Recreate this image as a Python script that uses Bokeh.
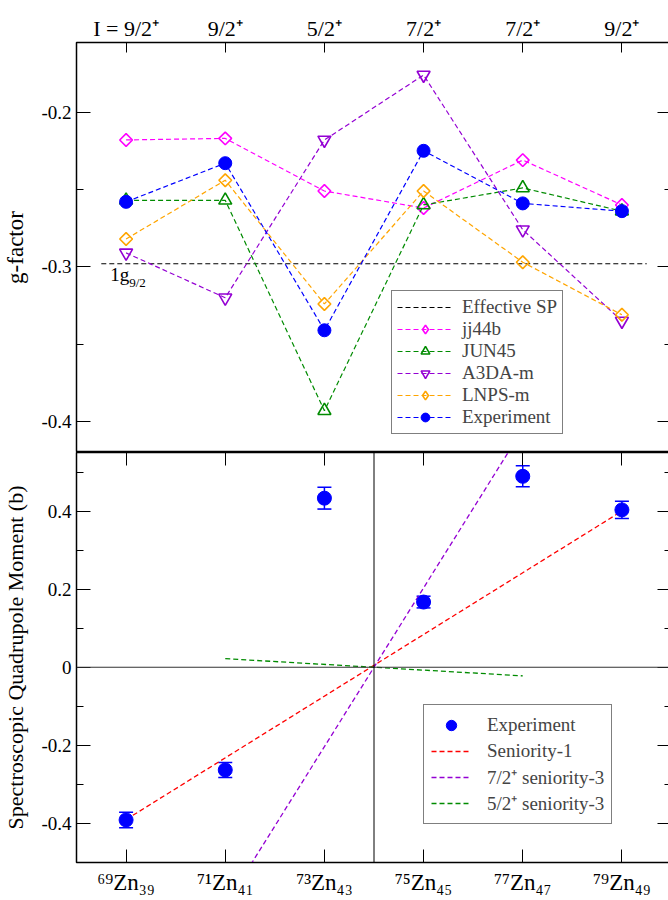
import numpy as np
from bokeh.plotting import figure
from bokeh.models import (Range1d, LinearAxis, FixedTicker, SingleIntervalTicker, Legend,
                          LegendItem, Span, Label, Whisker, ColumnDataSource, TeeHead,
                          PrintfTickFormatter)
from bokeh.layouts import column
from bokeh.embed import file_html
from bokeh.resources import INLINE

# ---------------- data ----------------
nuclei = ["⁶⁹Zn₃₉", "⁷¹Zn₄₁", "⁷³Zn₄₃", "⁷⁵Zn₄₅", "⁷⁷Zn₄₇", "⁷⁹Zn₄₉"]
spins = ["I = 9/2⁺", "9/2⁺", "5/2⁺", "7/2⁺", "7/2⁺", "9/2⁺"]

g_jj44b = [-0.218, -0.217, -0.251, -0.262, -0.231, -0.260]
g_jun45 = [-0.257, -0.257, -0.393, -0.260, -0.249, -0.264]
g_a3da = [-0.291, -0.320, -0.218, -0.176, -0.276, -0.335]
g_lnps = [-0.282, -0.244, -0.324, -0.251, -0.297, -0.331]
g_exp = [-0.258, -0.233, -0.341, -0.225, -0.259, -0.264]
g_sp = -0.298
sp_x = [-0.25, 5.25]

q_exp = [-0.391, -0.263, 0.433, 0.167, 0.489, 0.403]
q_err = [0.020, 0.019, 0.028, 0.015, 0.027, 0.022]
sen1_x = [0, 5]
sen1_q = [-0.39, 0.40]
sen3_72_x = [1, 4]
sen3_72_q = [-0.61, 0.61]
sen3_52_x = [1, 4]
sen3_52_q = [0.022, -0.022]

xs = list(range(len(nuclei)))

FONT = "Liberation Serif"
MAGENTA = "#ff00ff"
GREEN = "#008b00"
VIOLET = "#9400d3"
ORANGE = "#ffa500"
BLUE = "#0000ff"
RED = "#ff0000"
DASH = "5 3"


def style_axis(ax, tick_len=14, minor_len=7, labels=True, font_size="19px"):
    ax.major_tick_in = tick_len
    ax.major_tick_out = 0
    ax.minor_tick_in = minor_len
    ax.minor_tick_out = 0
    ax.axis_line_color = "black"
    ax.major_tick_line_color = "black"
    ax.minor_tick_line_color = "black"
    ax.major_label_text_font = FONT
    ax.major_label_text_color = "black"
    ax.axis_label_text_font = FONT
    ax.axis_label_text_font_style = "normal"
    ax.axis_label_text_color = "black"
    if labels:
        ax.major_label_text_font_size = font_size
    else:
        ax.major_label_text_font_size = "1px"
        ax.major_label_text_color = None
        ax.major_label_standoff = 0


# ---------------- top panel: g-factors ----------------
p1 = figure(width=671, height=452, x_range=Range1d(-0.5, 5.5), y_range=Range1d(-0.42, -0.155),
            x_axis_location="above", output_backend="svg", toolbar_location=None,
            min_border_left=73, min_border_right=0, min_border_top=42, min_border_bottom=0)
p1.grid.visible = False
p1.outline_line_color = "black"
p1.outline_line_width = 1.5

xa = p1.xaxis[0]
xa.ticker = FixedTicker(ticks=xs)
xa.major_label_overrides = {x: s for x, s in zip(xs, spins)}
style_axis(xa, tick_len=10, minor_len=0, font_size="22px")
xa.major_label_standoff = 2

ya = p1.yaxis[0]
ya.ticker = SingleIntervalTicker(interval=0.1, num_minor_ticks=2)
ya.formatter = PrintfTickFormatter(format="%.1f")
style_axis(ya)
ya.major_label_standoff = 5
ya.axis_label = "g-factor"
ya.axis_label_text_font_size = "23px"
ya.axis_label_standoff = 10

ra1 = LinearAxis(ticker=SingleIntervalTicker(interval=0.1, num_minor_ticks=2))
style_axis(ra1, labels=False)
p1.add_layout(ra1, "right")

sp_r = p1.line(sp_x, [g_sp, g_sp], line_color="black", line_dash=DASH, line_width=1.2)
p1.add_layout(Label(x=sp_x[0] + 0.09, y=g_sp - 0.0135, text="1g", text_font=FONT,
                    text_font_size="19px", text_color="black"))
p1.add_layout(Label(x=sp_x[0] + 0.09, y=g_sp - 0.0135, x_offset=19, y_offset=-5, text="9/2",
                    text_font=FONT, text_font_size="13px", text_color="black"))

series = [
    ("jj44b", g_jj44b, MAGENTA, "square", np.pi / 4, 9, "diamond"),
    ("JUN45", g_jun45, GREEN, "triangle", 0, 13, "triangle"),
    ("A3DA-m", g_a3da, VIOLET, "inverted_triangle", 0, 13, "inverted_triangle"),
    ("LNPS-m", g_lnps, ORANGE, "square", np.pi / 4, 9, "diamond"),
]
items = [LegendItem(label="Effective SP", renderers=[sp_r])]
for name, vals, col, marker, ang, size, leg_marker in series:
    lr = p1.line(xs, vals, line_color=col, line_dash=DASH, line_width=1.2)
    sr = p1.scatter(xs, vals, marker=marker, angle=ang, size=size, line_color=col,
                    line_width=1.6, fill_color=None)
    if leg_marker == marker:
        items.append(LegendItem(label=name, renderers=[lr, sr]))
    else:
        # legend-only proxy (the legend ignores marker rotation); its point is NaN, so never drawn
        proxy = p1.scatter(x=[np.nan], y=[np.nan], marker=leg_marker, size=15, line_color=col,
                           line_width=1.6, fill_color=None)
        items.append(LegendItem(label=name, renderers=[lr, proxy]))
lr = p1.line(xs, g_exp, line_color=BLUE, line_dash=DASH, line_width=1.2)
sr = p1.scatter(xs, g_exp, marker="circle", size=13, line_color=BLUE, fill_color=BLUE)
items.append(LegendItem(label="Experiment", renderers=[lr, sr]))

leg1 = Legend(items=items, location=(315, 18), label_text_font=FONT, label_text_font_size="19px",
              border_line_color="black", border_line_width=1, background_fill_alpha=1,
              padding=5, spacing=0, glyph_width=56, glyph_height=22, label_height=22,
              label_standoff=9, margin=0)
p1.add_layout(leg1)

# ---------------- bottom panel: quadrupole moments ----------------
p2 = figure(width=671, height=448, x_range=Range1d(-0.5, 5.5), y_range=Range1d(-0.5, 0.55),
            output_backend="svg", toolbar_location=None,
            min_border_left=73, min_border_right=0, min_border_top=0, min_border_bottom=38)
p2.grid.visible = False
p2.outline_line_color = "black"
p2.outline_line_width = 1.5

xb = p2.xaxis[0]
xb.ticker = FixedTicker(ticks=xs)
xb.major_label_overrides = {x: s for x, s in zip(xs, nuclei)}
style_axis(xb, tick_len=13, minor_len=0, font_size="23px")
xb.major_label_standoff = 7

yb = p2.yaxis[0]
yb.ticker = SingleIntervalTicker(interval=0.2, num_minor_ticks=2)
yb.formatter = PrintfTickFormatter(format="%.1f")
yb.major_label_overrides = {0: "0"}
style_axis(yb)
yb.major_label_standoff = 5
yb.axis_label = "Spectroscopic Quadrupole Moment (b)"
yb.axis_label_text_font_size = "22px"
yb.axis_label_standoff = 10

ra2 = LinearAxis(ticker=SingleIntervalTicker(interval=0.2, num_minor_ticks=2))
style_axis(ra2, labels=False)
p2.add_layout(ra2, "right")
ta2 = LinearAxis(ticker=FixedTicker(ticks=xs))
style_axis(ta2, tick_len=13, minor_len=0, labels=False)
p2.add_layout(ta2, "above")

p2.add_layout(Span(location=0, dimension="width", line_color="#333333", line_width=1.2))
p2.add_layout(Span(location=(xs[2] + xs[3]) / 2, dimension="height", line_color="black",
                   line_width=1))

r_s1 = p2.line(sen1_x, sen1_q, line_color=RED, line_dash=DASH, line_width=1.3)
r_s72 = p2.line(sen3_72_x, sen3_72_q, line_color=VIOLET, line_dash=DASH, line_width=1.3)
r_s52 = p2.line(sen3_52_x, sen3_52_q, line_color=GREEN, line_dash=DASH, line_width=1.3)

src = ColumnDataSource(dict(x=xs, q=q_exp,
                            upper=[q + e for q, e in zip(q_exp, q_err)],
                            lower=[q - e for q, e in zip(q_exp, q_err)]))
p2.add_layout(Whisker(source=src, base="x", upper="upper", lower="lower", line_color=BLUE,
                      line_width=1.5,
                      upper_head=TeeHead(size=14, line_color=BLUE, line_width=1.5),
                      lower_head=TeeHead(size=14, line_color=BLUE, line_width=1.5)))
r_exp = p2.scatter("x", "q", source=src, marker="circle", size=14, line_color=BLUE,
                   fill_color=BLUE)

leg2 = Legend(items=[LegendItem(label="Experiment", renderers=[r_exp]),
                     LegendItem(label="Seniority-1", renderers=[r_s1]),
                     LegendItem(label="7/2⁺ seniority-3", renderers=[r_s72]),
                     LegendItem(label="5/2⁺ seniority-3", renderers=[r_s52])],
              location=(347, 38), label_text_font=FONT, label_text_font_size="19px",
              border_line_color="black", border_line_width=1, background_fill_alpha=1,
              padding=7, spacing=0, glyph_width=40, glyph_height=26, label_height=26,
              label_standoff=16, margin=0)
p2.add_layout(leg2)

layout = column(p1, p2, spacing=0)
open("out.html", "w").write(file_html(layout, INLINE))
